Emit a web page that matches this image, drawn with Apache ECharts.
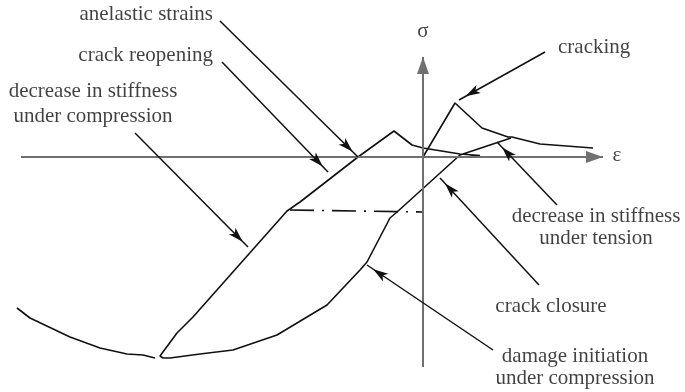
<!DOCTYPE html>
<html>
<head>
<meta charset="utf-8">
<script src="https://cdn.jsdelivr.net/npm/echarts@6/dist/echarts.min.js"></script>
<style>
  html, body { margin: 0; padding: 0; background: #fff; }
  #main { width: 685px; height: 392px; }
</style>
</head>
<body>
<div id="main"></div>
<script>
// strain (eps) / stress (sigma) points of the schematic, origin at the axes crossing
var tensionEps   = [0, 32, 59, 85, 89, 117, 170];
var tensionSig   = [0, 54, 29, 20, 20, 13, 9];

var envelopeEps  = [-406, -393, -353, -323, -296, -280, -268];
var envelopeSig  = [-151, -161, -180, -191, -197, -198, -201];

var cycleEps = [88, 37, -26, -33, -56, -63, -96, -146, -190, -223, -253, -260, -263,
                -246, -230, -136, -133, -126, -123, -65, -29, -11, 0, 37, 57, 58, 42];
var cycleSig = [19, 2, -55, -61, -105, -113, -148, -178, -193, -197, -201, -201, -199,
                -176, -160, -54, -52, -47, -45, 0, 26, 12, 9, 3, 1.5, -0.5, -0.3];

var dashEps = [-133, 0];
var dashSig = [-53, -55];

// axis extents
var epsAxis = [-402, 180];
var sigAxis = [-210, 100];

// annotations: text, arrow start, arrow tip
var noteTexts = ['anelastic strains', 'crack reopening', 'decrease in stiffness\nunder compression',
                 'cracking', 'decrease in stiffness\nunder tension', 'crack closure',
                 'damage initiation\nunder compression'];
var noteFrom = [[-203, 136], [-201, 95], [-288, 24], [122, 105], [134, -48], [116, -128], [70, -193]];
var noteTip  = [[-65, 0], [-95, -15], [-175, -90], [36, 57], [74, 15], [17, -21], [-56, -108]];
var noteAt   = [[-210, 143], [-210, 102], [-330, 53], [135, 110], [173, -70], [128, -149], [152, -210]];
var noteAlign = ['right', 'right', 'center', 'left', 'center', 'center', 'center'];
var noteLineH = [21, 21, 25, 21, 22, 21, 22];

var axisNames = ['σ', 'ε'];
var axisNameAt = [[0, 126], [194, 2]];

function zip(xs, ys) {
  var out = [];
  for (var i = 0; i < xs.length; i++) out.push([xs[i], ys[i]]);
  return out;
}

var chart = echarts.init(document.getElementById('main'));
var font = 'Liberation Serif, Times New Roman, serif';

var curveStyle = { color: '#111', width: 1.6 };

var arrowLines = [];
for (var i = 0; i < noteFrom.length; i++) {
  arrowLines.push([{ coord: noteFrom[i] }, { coord: noteTip[i] }]);
}

var labelData = [];
for (var j = 0; j < noteTexts.length; j++) {
  labelData.push({
    value: noteAt[j],
    label: { align: noteAlign[j], lineHeight: noteLineH[j], formatter: noteTexts[j] }
  });
}
for (var k = 0; k < axisNames.length; k++) {
  labelData.push({
    value: axisNameAt[k],
    label: { align: 'center', lineHeight: 21, formatter: axisNames[k] }
  });
}

var option = {
  animation: false,
  backgroundColor: '#fff',
  grid: { left: 0, right: 0, top: 0, bottom: 0 },
  xAxis: { type: 'value', min: -423, max: 262, show: false },
  yAxis: { type: 'value', min: -235, max: 157, show: false },
  series: [
    {
      // sigma / epsilon axes
      type: 'line', data: [], silent: true,
      markLine: {
        silent: true,
        symbol: ['none', 'triangle'],
        symbolSize: [12, 17],
        symbolOffset: [0, [0, 8.5]],
        label: { show: false },
        lineStyle: { color: '#707070', width: 2, type: 'solid' },
        data: [
          [{ coord: [epsAxis[0], 0] }, { coord: [epsAxis[1], 0] }],
          [{ coord: [0, sigAxis[0]] }, { coord: [0, sigAxis[1]] }]
        ]
      }
    },
    {
      type: 'line', data: zip(tensionEps, tensionSig), showSymbol: false,
      lineStyle: curveStyle, z: 3
    },
    {
      type: 'line', data: zip(envelopeEps, envelopeSig), showSymbol: false,
      lineStyle: curveStyle, z: 3
    },
    {
      type: 'line', data: zip(cycleEps, cycleSig), showSymbol: false,
      lineStyle: curveStyle, z: 3
    },
    {
      type: 'line', data: zip(dashEps, dashSig), showSymbol: false,
      lineStyle: { color: '#111', width: 1.6, type: [24, 8, 2, 8] }, z: 3
    },
    {
      // annotation arrows
      type: 'line', data: [], silent: true,
      markLine: {
        silent: true,
        symbol: ['none', 'arrow'],
        symbolSize: [7, 15],
        symbolOffset: [0, [0, 7.5]],
        label: { show: false },
        lineStyle: { color: '#111', width: 1.5, type: 'solid' },
        data: arrowLines
      }
    },
    {
      type: 'scatter', symbolSize: 0, data: labelData, silent: true,
      label: {
        show: true, position: 'inside', color: '#111',
        fontFamily: font, fontSize: 21, verticalAlign: 'middle'
      }
    }
  ]
};

option && chart.setOption(option);
</script>
</body>
</html>
